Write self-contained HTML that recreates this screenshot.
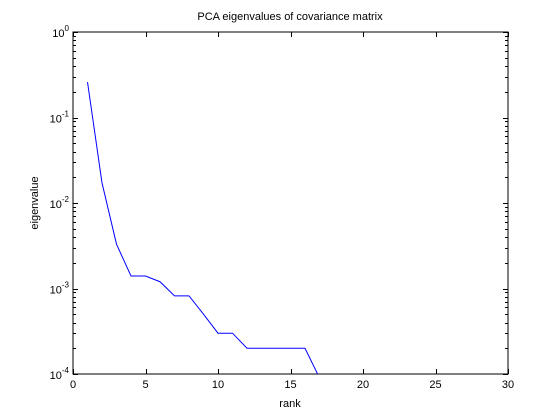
<!DOCTYPE html>
<html><head><meta charset="utf-8">
<style>
html,body{margin:0;padding:0;background:#fff;}
svg{display:block;font-family:"Liberation Sans",Arial,sans-serif;}
</style></head>
<body>
<svg id="chart" width="560" height="420" viewBox="0 0 560 420" xmlns="http://www.w3.org/2000/svg">
<rect width="560" height="420" fill="#fff"/>
<defs><clipPath id="plotclip"><rect x="73" y="32" width="435" height="342"/></clipPath></defs>
<g id="axes"></g>
<text x="290" y="20" font-size="11" text-anchor="middle">PCA eigenvalues of covariance matrix</text>
<text x="290" y="407" font-size="11" text-anchor="middle">rank</text>
<text x="38" y="203" font-size="11" text-anchor="middle" transform="rotate(-90 38 203)">eigenvalue</text>
</svg>
<script>
const ranks = [1,2,3,4,5,6,7,8,9,10,11,12,13,14,15,16,17];
const eigenvalues = [0.26,0.0172,0.0033,0.0014,0.0014,0.0012,0.00082,0.00082,0.0005,0.0003,0.0003,0.0002,0.0002,0.0002,0.0002,0.0002,0.00009];
const xTicks = [0,5,10,15,20,25,30];
const yDecades = [-4,-3,-2,-1,0];

const L=73,R=508,T=32,B=374;
const xMin=0,xMax=30,yMinExp=-4,yMaxExp=0;
function xs(v){return L+(v-xMin)/(xMax-xMin)*(R-L);}
function ys(v){return B-(Math.log10(v)-yMinExp)/(yMaxExp-yMinExp)*(B-T);}
const NS="http://www.w3.org/2000/svg";
const g=document.getElementById('axes');
function mk(tag,attrs,parent){const e=document.createElementNS(NS,tag);for(const k in attrs)e.setAttribute(k,attrs[k]);(parent||g).appendChild(e);return e;}

const frame=mk('rect',{x:L,y:T,width:R-L,height:B-T,fill:'none',stroke:'#000','stroke-width':1});



xTicks.forEach(t=>{
  const x=Math.round(xs(t))+0.5;
  mk('line',{x1:x,y1:B,x2:x,y2:B-5,stroke:'#000'});
  mk('line',{x1:x,y1:T,x2:x,y2:T+5,stroke:'#000'});
  const tx=mk('text',{x:xs(t),y:B+14,'font-size':11,'text-anchor':'middle'});
  tx.textContent=t;
  
  
});

yDecades.forEach(d=>{
  const y=Math.round(ys(Math.pow(10,d)))+0.5;
  mk('line',{x1:L,y1:y,x2:L+5,y2:y,stroke:'#000'});
  mk('line',{x1:R,y1:y,x2:R-5,y2:y,stroke:'#000'});
  const tx=mk('text',{x:L-4,y:ys(Math.pow(10,d))+5,'font-size':11,'text-anchor':'end'});
  
  
  const base=document.createElementNS(NS,'tspan');base.textContent='10';tx.appendChild(base);
  const sup=document.createElementNS(NS,'tspan');sup.setAttribute('dy','-6');sup.setAttribute('font-size','8');sup.textContent=d;tx.appendChild(sup);
  if(d<yMaxExp){
    for(let m=2;m<=9;m++){
      const yy=Math.round(ys(m*Math.pow(10,d)))+0.5;
      mk('line',{x1:L,y1:yy,x2:L+3,y2:yy,stroke:'#000'});
      mk('line',{x1:R,y1:yy,x2:R-3,y2:yy,stroke:'#000'});
    }
  }
});

const pts=ranks.map((r,i)=>xs(r).toFixed(2)+','+ys(eigenvalues[i]).toFixed(2)).join(' ');
const line=mk('polyline',{points:pts,fill:'none',stroke:'#0000ff','stroke-width':1,'clip-path':'url(#plotclip)'});


</script>
</body></html>
